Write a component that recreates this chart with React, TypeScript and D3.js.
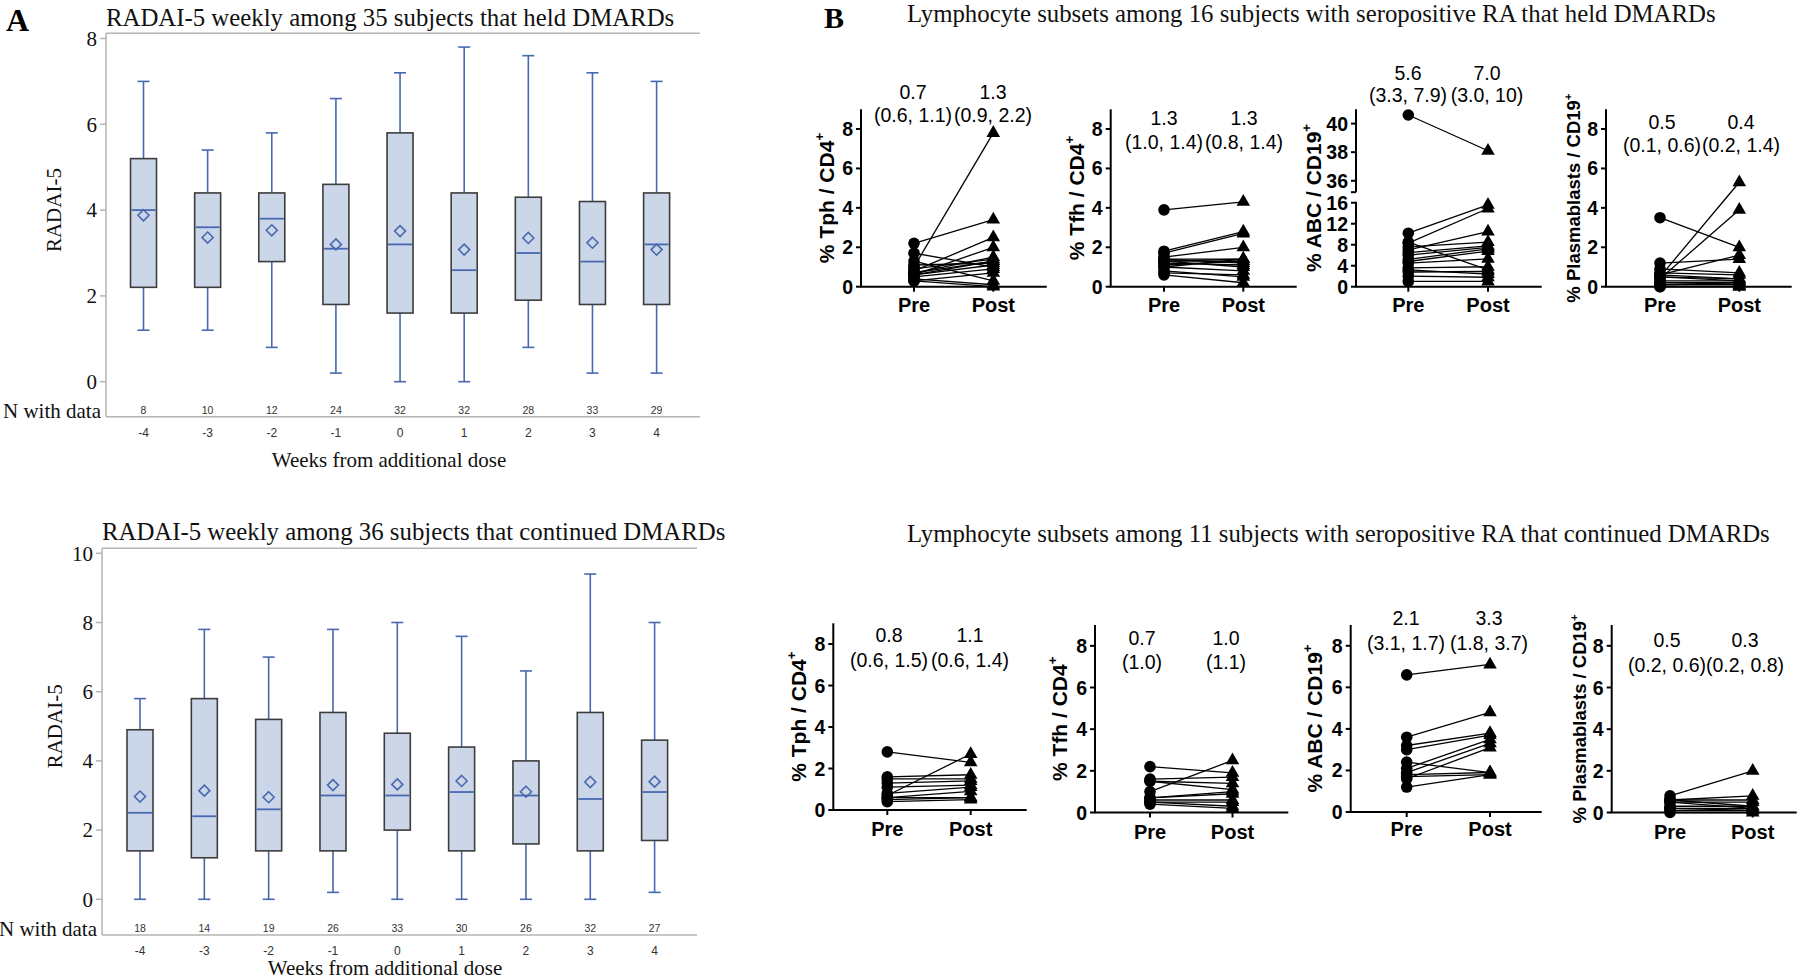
import React from "react";
import * as d3 from "d3";

// ---------- Panel A data ----------
const weeks = [-4, -3, -2, -1, 0, 1, 2, 3, 4];

const heldN = [8, 10, 12, 24, 32, 32, 28, 33, 29];
const heldLow = [1.2, 1.2, 0.8, 0.2, 0, 0, 0.8, 0.2, 0.2];
const heldQ1 = [2.2, 2.2, 2.8, 1.8, 1.6, 1.6, 1.9, 1.8, 1.8];
const heldMedian = [4.0, 3.6, 3.8, 3.1, 3.2, 2.6, 3.0, 2.8, 3.2];
const heldQ3 = [5.2, 4.4, 4.4, 4.6, 5.8, 4.4, 4.3, 4.2, 4.4];
const heldHigh = [7.0, 5.4, 5.8, 6.6, 7.2, 7.8, 7.6, 7.2, 7.0];
const heldMean = [3.88, 3.36, 3.53, 3.2, 3.51, 3.08, 3.35, 3.24, 3.08];

const contN = [18, 14, 19, 26, 33, 30, 26, 32, 27];
const contLow = [0, 0, 0, 0.2, 0, 0, 0, 0, 0.2];
const contQ1 = [1.4, 1.2, 1.4, 1.4, 2.0, 1.4, 1.6, 1.4, 1.7];
const contMedian = [2.5, 2.4, 2.6, 3.0, 3.0, 3.1, 3.0, 2.9, 3.1];
const contQ3 = [4.9, 5.8, 5.2, 5.4, 4.8, 4.4, 4.0, 5.4, 4.6];
const contHigh = [5.8, 7.8, 7.0, 7.8, 8.0, 7.6, 6.6, 9.4, 8.0];
const contMean = [2.97, 3.14, 2.95, 3.3, 3.32, 3.42, 3.11, 3.39, 3.4];

const heldTicks = [0, 2, 4, 6, 8];
const contTicks = [0, 2, 4, 6, 8, 10];

// ---------- Panel B data ----------
const tphHeldPre = [1.0, 2.2, 0.8, 0.6, 0.7, 1.7, 1.3, 1.1, 0.9, 0.7, 0.6, 0.6, 0.5, 0.4, 0.3, 0.3];
const tphHeldPost = [7.8, 3.4, 2.5, 2.0, 1.5, 1.0, 0.3, 1.2, 1.4, 1.3, 1.3, 1.1, 0.9, 0.1, 0.0, 0.7];
const tfhHeldPre = [3.9, 1.8, 1.7, 1.5, 1.4, 1.4, 1.3, 1.3, 1.3, 1.2, 1.1, 1.0, 1.0, 0.8, 0.7, 0.6];
const tfhHeldPost = [4.3, 2.8, 2.7, 2.0, 1.4, 1.2, 1.4, 1.0, 1.3, 1.1, 1.3, 0.8, 1.4, 0.5, 0.6, 0.2];
const abcHeldPre = [40.6, 10.2, 8.3, 7.0, 7.6, 6.5, 6.0, 5.2, 8.5, 4.8, 4.5, 3.6, 3.2, 2.8, 2.0, 1.0];
const abcHeldPost = [38.1, 15.6, 14.9, 10.5, 8.5, 7.8, 7.5, 7.2, 3.2, 6.8, 5.3, 3.8, 2.4, 2.9, 1.8, 1.0];
const pbHeldPre = [3.5, 0.5, 0.4, 1.2, 0.6, 0.9, 0.7, 0.6, 0.5, 0.5, 0.3, 0.2, 0.1, 0.1, 0.0, 0.0];
const pbHeldPost = [2.0, 5.3, 3.9, 1.4, 1.6, 0.7, 0.6, 0.4, 0.4, 0.3, 0.3, 0.2, 0.2, 0.1, 0.0, 0.0];

const tphContPre = [2.8, 0.7, 1.6, 1.5, 1.3, 1.1, 0.8, 0.6, 0.6, 0.5, 0.4];
const tphContPost = [2.3, 2.7, 1.7, 1.5, 1.4, 1.2, 1.1, 0.9, 0.6, 0.6, 0.5];
const tfhContPre = [2.2, 1.0, 1.6, 1.5, 1.5, 0.7, 0.7, 0.6, 0.5, 0.5, 0.4];
const tfhContPost = [1.9, 2.5, 1.7, 1.1, 1.4, 0.9, 1.0, 0.6, 0.5, 0.3, 0.2];
const abcContPre = [6.6, 3.6, 3.2, 3.0, 2.4, 2.1, 1.9, 1.8, 1.7, 1.6, 1.2];
const abcContPost = [7.1, 4.8, 3.8, 3.7, 1.9, 3.5, 3.3, 1.9, 1.8, 3.1, 1.8];
const pbContPre = [0.8, 0.6, 0.6, 0.6, 0.5, 0.5, 0.3, 0.2, 0.2, 0.1, 0.0];
const pbContPost = [2.0, 0.8, 0.6, 0.3, 0.5, 0.2, 0.3, 0.1, 0.2, 0.1, 0.0];

const pairTicks = [0, 2, 4, 6, 8];
const abcLowerTicks = [0, 4, 8, 12, 16];
const abcUpperTicks = [36, 38, 40];
const groupLabels = ["Pre", "Post"];

const tphHeldAnn = [["0.7", "(0.6, 1.1)"], ["1.3", "(0.9, 2.2)"]];
const tfhHeldAnn = [["1.3", "(1.0, 1.4)"], ["1.3", "(0.8, 1.4)"]];
const abcHeldAnn = [["5.6", "(3.3, 7.9)"], ["7.0", "(3.0, 10)"]];
const pbHeldAnn = [["0.5", "(0.1, 0.6)"], ["0.4", "(0.2, 1.4)"]];
const tphContAnn = [["0.8", "(0.6, 1.5)"], ["1.1", "(0.6, 1.4)"]];
const tfhContAnn = [["0.7", "(1.0)"], ["1.0", "(1.1)"]];
const abcContAnn = [["2.1", "(3.1, 1.7)"], ["3.3", "(1.8, 3.7)"]];
const pbContAnn = [["0.5", "(0.2, 0.6)"], ["0.3", "(0.2, 0.8)"]];

// ---------- styles ----------
const SERIF = "'Liberation Serif', 'Times New Roman', serif";
const SANS = "'Liberation Sans', Arial, sans-serif";
const BOX_FILL = "#cbd6e8";
const BOX_STROKE = "#3d3d3d";
const BLUE = "#4868b0";
const FRAME = "#b4b4b4";

type BoxCfg = {
  title: string;
  titleY: number;
  frameLeft: number;
  frameRight: number;
  frameTop: number;
  frameBottom: number;
  yRange: [number, number];
  yMax: number;
  ticks: number[];
  xRange: [number, number];
  n: number[];
  low: number[];
  q1: number[];
  med: number[];
  q3: number[];
  high: number[];
  mean: number[];
  nY: number;
  weekY: number;
  xTitleY: number;
  xTitleX: number;
  yLabelX: number;
};

function BoxPanel(c: BoxCfg) {
  const y = d3.scaleLinear().domain([0, c.yMax]).range(c.yRange);
  const x = d3.scalePoint<number>().domain(weeks).range(c.xRange);
  const bw = 26;
  const cap = 12;
  const dm = 5.5;
  const yMid = (y(0) + y(c.yMax)) / 2;
  return (
    <g>
      <text x={c.frameLeft} y={c.titleY} fontFamily={SERIF} fontSize={24.8} fill="#111">
        {c.title}
      </text>
      <line x1={c.frameLeft} x2={c.frameRight} y1={c.frameTop} y2={c.frameTop} stroke={FRAME} strokeWidth={1.5} />
      <line x1={c.frameLeft} x2={c.frameRight} y1={c.frameBottom} y2={c.frameBottom} stroke={FRAME} strokeWidth={1.5} />
      <line x1={c.frameLeft} x2={c.frameLeft} y1={c.frameTop} y2={c.frameBottom} stroke={FRAME} strokeWidth={1.5} />
      {c.ticks.map((t) => (
        <g key={t}>
          <line x1={c.frameLeft - 6} x2={c.frameLeft} y1={y(t)} y2={y(t)} stroke={FRAME} strokeWidth={1.5} />
          <text x={c.frameLeft - 9} y={y(t)} dy="0.35em" textAnchor="end" fontFamily={SERIF} fontSize={21} fill="#111">
            {t}
          </text>
        </g>
      ))}
      <text
        transform={`translate(${c.yLabelX},${yMid}) rotate(-90)`}
        textAnchor="middle"
        dy="0.35em"
        fontFamily={SERIF}
        fontSize={21}
        fill="#111"
      >
        RADAI-5
      </text>
      {weeks.map((w, i) => {
        const cx = x(w) as number;
        return (
          <g key={w}>
            <line x1={cx} x2={cx} y1={y(c.high[i])} y2={y(c.q3[i])} stroke={BLUE} strokeWidth={1.6} />
            <line x1={cx} x2={cx} y1={y(c.q1[i])} y2={y(c.low[i])} stroke={BLUE} strokeWidth={1.6} />
            <line x1={cx - cap / 2} x2={cx + cap / 2} y1={y(c.high[i])} y2={y(c.high[i])} stroke={BLUE} strokeWidth={1.6} />
            <line x1={cx - cap / 2} x2={cx + cap / 2} y1={y(c.low[i])} y2={y(c.low[i])} stroke={BLUE} strokeWidth={1.6} />
            <rect
              x={cx - bw / 2}
              y={y(c.q3[i])}
              width={bw}
              height={y(c.q1[i]) - y(c.q3[i])}
              fill={BOX_FILL}
              stroke={BOX_STROKE}
              strokeWidth={1.6}
            />
            <line x1={cx - bw / 2 + 1} x2={cx + bw / 2 - 1} y1={y(c.med[i])} y2={y(c.med[i])} stroke={BLUE} strokeWidth={1.8} />
            <path
              d={`M${cx},${y(c.mean[i]) - dm} L${cx + dm},${y(c.mean[i])} L${cx},${y(c.mean[i]) + dm} L${cx - dm},${y(c.mean[i])} Z`}
              fill="none"
              stroke={BLUE}
              strokeWidth={1.6}
            />
            <text x={cx} y={c.nY} dy="0.35em" textAnchor="middle" fontFamily={SANS} fontSize={10.5} fill="#333">
              {c.n[i]}
            </text>
            <text x={cx} y={c.weekY} dy="0.35em" textAnchor="middle" fontFamily={SANS} fontSize={12} fill="#333">
              {w}
            </text>
          </g>
        );
      })}
      <text x={c.frameLeft - 5} y={c.frameBottom + 1} textAnchor="end" fontFamily={SERIF} fontSize={21} fill="#111">
        N with data
      </text>
      <text x={c.xTitleX} y={c.xTitleY} dy="0.35em" textAnchor="middle" fontFamily={SERIF} fontSize={21} fill="#111">
        Weeks from additional dose
      </text>
    </g>
  );
}

type PairCfg = {
  pre: number[];
  post: number[];
  label: string;
  labelSize?: number;
  ann: string[][];
  axisX: number;
  y0: number;
  yTop: number;
  xEnd: number;
  preX: number;
  postX: number;
  annY1: number;
  annY2: number;
  annX: [number, number];
  catY: number;
  labelX: number;
  broken?: boolean;
};

function PairPanel(c: PairCfg) {
  const lin = d3.scaleLinear().domain([0, 9]).range([c.y0, c.yTop]);
  const lower = d3.scaleLinear().domain([0, 16.2]).range([c.y0, c.y0 - 85]);
  const upper = d3.scaleLinear().domain([35.2, 41]).range([c.y0 - 94.5, c.yTop]);
  const y = (v: number) => (c.broken ? (v > 30 ? upper(v) : lower(v)) : lin(v));
  const tri = d3.symbol(d3.symbolTriangle, 80)() as string;
  const midY = (c.y0 + c.yTop) / 2;
  const tickGroups = c.broken ? [...abcLowerTicks, ...abcUpperTicks] : pairTicks;
  const ls = c.labelSize ?? 21;
  return (
    <g>
      {c.broken ? (
        <g>
          <line x1={c.axisX} x2={c.axisX} y1={c.y0} y2={lower(16.2)} stroke="#000" strokeWidth={2} />
          <line x1={c.axisX} x2={c.axisX} y1={upper(35.2)} y2={c.yTop} stroke="#000" strokeWidth={2} />
          <line x1={c.axisX - 5} x2={c.axisX} y1={upper(35.2)} y2={upper(35.2)} stroke="#000" strokeWidth={2} />
        </g>
      ) : (
        <line x1={c.axisX} x2={c.axisX} y1={c.y0} y2={c.yTop} stroke="#000" strokeWidth={2} />
      )}
      <line x1={c.axisX - 1} x2={c.xEnd} y1={c.y0} y2={c.y0} stroke="#000" strokeWidth={2} />
      {tickGroups.map((t) => (
        <g key={t}>
          <line x1={c.axisX - 5} x2={c.axisX} y1={y(t)} y2={y(t)} stroke="#000" strokeWidth={2} />
          <text
            x={c.axisX - 8}
            y={y(t)}
            dy="0.36em"
            textAnchor="end"
            fontFamily={SANS}
            fontWeight="bold"
            fontSize={19.5}
            fill="#000"
          >
            {t}
          </text>
        </g>
      ))}
      {[c.preX, c.postX].map((px, i) => (
        <g key={i}>
          <line x1={px} x2={px} y1={c.y0} y2={c.y0 + 5} stroke="#000" strokeWidth={2} />
          <text x={px} y={c.catY} dy="0.36em" textAnchor="middle" fontFamily={SANS} fontWeight="bold" fontSize={20} fill="#000">
            {groupLabels[i]}
          </text>
          <text x={c.annX[i]} y={c.annY1} dy="0.36em" textAnchor="middle" fontFamily={SANS} fontSize={19.5} fill="#000">
            {c.ann[i][0]}
          </text>
          <text x={c.annX[i]} y={c.annY2} dy="0.36em" textAnchor="middle" fontFamily={SANS} fontSize={19.5} fill="#000">
            {c.ann[i][1]}
          </text>
        </g>
      ))}
      <text
        transform={`translate(${c.labelX},${midY}) rotate(-90)`}
        textAnchor="middle"
        dy="0.36em"
        fontFamily={SANS}
        fontWeight="bold"
        fontSize={ls}
        fill="#000"
      >
        {c.label}
        <tspan dy={-ls * 0.44} fontSize={ls * 0.63}>
          +
        </tspan>
      </text>
      {c.pre.map((v, i) => (
        <line key={i} x1={c.preX} x2={c.postX} y1={y(v)} y2={y(c.post[i])} stroke="#000" strokeWidth={1.3} />
      ))}
      {c.pre.map((v, i) => (
        <circle key={i} cx={c.preX} cy={y(v)} r={5.8} fill="#000" />
      ))}
      {c.post.map((v, i) => (
        <path key={i} d={tri} transform={`translate(${c.postX},${y(v)})`} fill="#000" />
      ))}
    </g>
  );
}

export default function App() {
  const topRow = { y0: 286.7, yTop: 109.3, catY: 305 };
  return (
    <svg
      width={1800}
      height={980}
      viewBox="0 0 1800 980"
      style={{ position: "absolute", left: 0, top: 0, background: "#fff" }}
    >
      <rect x={0} y={0} width={1800} height={980} fill="#fff" />
      <text x={6} y={31} fontFamily={SERIF} fontWeight="bold" fontSize={32} fill="#000">
        A
      </text>
      <text x={824} y={28} fontFamily={SERIF} fontWeight="bold" fontSize={30} fill="#000">
        B
      </text>
      <BoxPanel
        title="RADAI-5 weekly among 35 subjects that held DMARDs"
        titleY={26}
        frameLeft={106}
        frameRight={700}
        frameTop={33.3}
        frameBottom={416.7}
        yRange={[381.7, 38.5]}
        yMax={8}
        ticks={heldTicks}
        xRange={[143.5, 656.6]}
        n={heldN}
        low={heldLow}
        q1={heldQ1}
        med={heldMedian}
        q3={heldQ3}
        high={heldHigh}
        mean={heldMean}
        nY={410}
        weekY={432.3}
        xTitleY={460}
        xTitleX={389}
        yLabelX={54}
      />
      <BoxPanel
        title="RADAI-5 weekly among 36 subjects that continued DMARDs"
        titleY={540}
        frameLeft={102}
        frameRight={697}
        frameTop={548.3}
        frameBottom={935}
        yRange={[899.3, 553.3]}
        yMax={10}
        ticks={contTicks}
        xRange={[140, 654.6]}
        n={contN}
        low={contLow}
        q1={contQ1}
        med={contMedian}
        q3={contQ3}
        high={contHigh}
        mean={contMean}
        nY={928}
        weekY={950.7}
        xTitleY={967.5}
        xTitleX={385}
        yLabelX={54.5}
      />

      <text x={907} y={22} fontFamily={SERIF} fontSize={24.8} fill="#111">
        Lymphocyte subsets among 16 subjects with seropositive RA that held DMARDs
      </text>
      <text x={907} y={542} fontFamily={SERIF} fontSize={24.8} fill="#111">
        Lymphocyte subsets among 11 subjects with seropositive RA that continued DMARDs
      </text>

      <PairPanel pre={tphHeldPre} post={tphHeldPost} label="% Tph / CD4" ann={tphHeldAnn}
        axisX={861} {...topRow} xEnd={1046.7} preX={914} postX={993.3}
        annY1={91.7} annY2={115} annX={[913, 993]} labelX={826} />
      <PairPanel pre={tfhHeldPre} post={tfhHeldPost} label="% Tfh / CD4" ann={tfhHeldAnn}
        axisX={1110.7} {...topRow} xEnd={1296.7} preX={1164} postX={1243.3}
        annY1={118.3} annY2={141.7} annX={[1164, 1244]} labelX={1076} />
      <PairPanel pre={abcHeldPre} post={abcHeldPost} label="% ABC / CD19" ann={abcHeldAnn}
        axisX={1356} {...topRow} xEnd={1541.7} preX={1408.3} postX={1488}
        annY1={73.3} annY2={95} annX={[1408, 1487]} labelX={1313} broken />
      <PairPanel pre={pbHeldPre} post={pbHeldPost} label="% Plasmablasts / CD19" labelSize={18.5} ann={pbHeldAnn}
        axisX={1606} {...topRow} xEnd={1791.7} preX={1660} postX={1739.3}
        annY1={121.7} annY2={145} annX={[1662, 1741]} labelX={1573} />

      <PairPanel pre={tphContPre} post={tphContPost} label="% Tph / CD4" ann={tphContAnn}
        axisX={833.3} y0={810} yTop={623.3} catY={828.3} xEnd={1026.7} preX={887.3} postX={970.7}
        annY1={635} annY2={660} annX={[889, 970]} labelX={798} />
      <PairPanel pre={tfhContPre} post={tfhContPost} label="% Tfh / CD4" ann={tfhContAnn}
        axisX={1095} y0={812.5} yTop={625} catY={831.7} xEnd={1288.3} preX={1150} postX={1232.5}
        annY1={638.3} annY2={661.7} annX={[1142, 1226]} labelX={1059} />
      <PairPanel pre={abcContPre} post={abcContPost} label="% ABC / CD19" ann={abcContAnn}
        axisX={1350.7} y0={812} yTop={625} catY={828.3} xEnd={1541.7} preX={1406.7} postX={1490}
        annY1={618.3} annY2={643.3} annX={[1406, 1489]} labelX={1314} />
      <PairPanel pre={pbContPre} post={pbContPost} label="% Plasmablasts / CD19" labelSize={18.5} ann={pbContAnn}
        axisX={1611.7} y0={812.5} yTop={625} catY={831.7} xEnd={1796.7} preX={1670} postX={1752.7}
        annY1={640} annY2={665} annX={[1667, 1745]} labelX={1579} />
    </svg>
  );
}
